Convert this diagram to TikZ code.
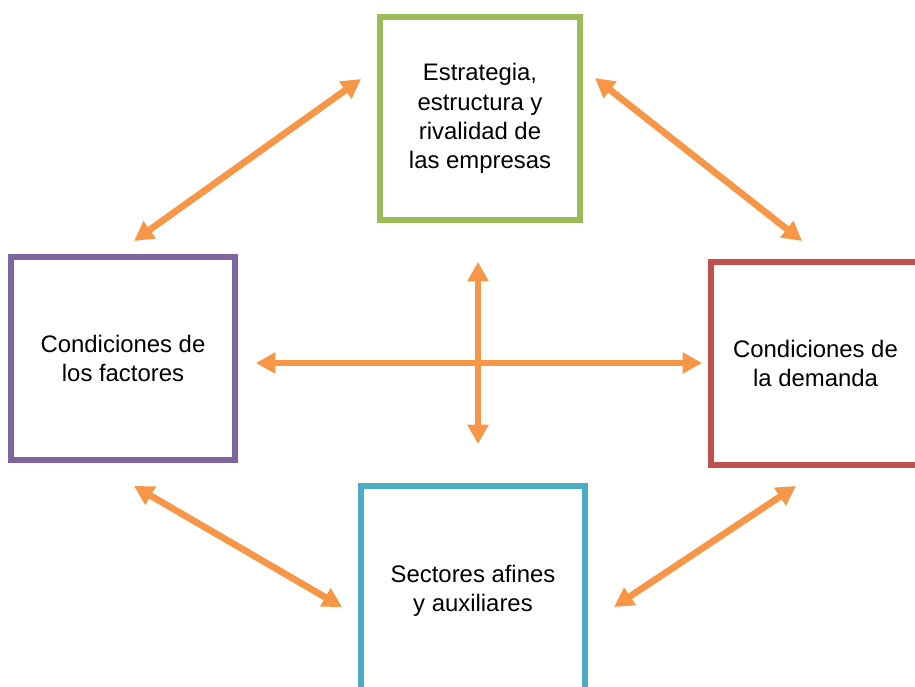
\documentclass[tikz,border=0pt]{standalone}
\usepackage{fontspec}
\setmainfont{Liberation Sans}
\usetikzlibrary{arrows.meta,positioning}
\definecolor{verde}{HTML}{9BBB59}
\definecolor{morado}{HTML}{8064A2}
\definecolor{rojo}{HTML}{C0504D}
\definecolor{azul}{HTML}{4BACC6}
\definecolor{naranja}{HTML}{F79646}

\begin{document}
\begin{tikzpicture}[x=0.02cm,y=-0.02cm]
    \tikzstyle{every node}=[draw, line width=3.4pt, align=center, inner sep=0pt, font=\fontsize{13.6}{16.6}\selectfont]
    \tikzstyle{flecha}=[{Triangle[length=11pt,width=11.5pt]}-{Triangle[length=11pt,width=11.5pt]}, line width=3.8pt, draw=naranja]

    \clip (0,0) rectangle (915,686);

    \node[rectangle, draw=verde, minimum width=4cm, minimum height=4.06cm] (est) at (480,118.5) {Estrategia,\\estructura y\\rivalidad de\\las empresas};
    \node[rectangle, draw=morado, minimum width=4.48cm, minimum height=4.06cm] (fac) at (123,358.5) {Condiciones de\\los factores};
    \node[rectangle, draw=rojo, minimum width=4.18cm, minimum height=4.06cm] (dem) at (815.5,363.5) {Condiciones de\\la demanda};
    \node[rectangle, draw=azul, minimum width=4.48cm, minimum height=4.18cm] (sec) at (473,590.5) {Sectores afines\\y auxiliares};

    \coordinate (fe1) at (134,241);
    \coordinate (fe2) at (361,79);
    \coordinate (ed1) at (595,78);
    \coordinate (ed2) at (802,241);
    \coordinate (fs1) at (134,486);
    \coordinate (fs2) at (342,607);
    \coordinate (sd1) at (614,607);
    \coordinate (sd2) at (796,486);
    \coordinate (h1) at (256,363);
    \coordinate (h2) at (702,363);
    \coordinate (v1) at (478,262);
    \coordinate (v2) at (478,444);

    \draw [flecha] (fe1) to (fe2);
    \draw [flecha] (ed1) to (ed2);
    \draw [flecha] (fs1) to (fs2);
    \draw [flecha] (sd1) to (sd2);
    \draw [flecha] (h1) to (h2);
    \draw [flecha] (v1) to (v2);
\end{tikzpicture}
\end{document}
